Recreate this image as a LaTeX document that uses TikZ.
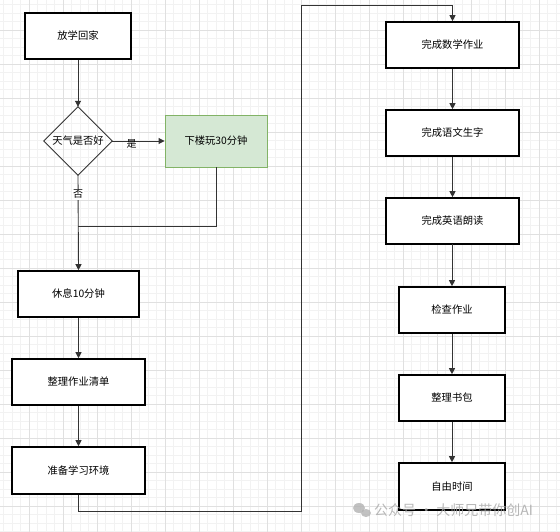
\documentclass[tikz,border=0pt]{standalone}
\usepackage{fontspec}
\setmainfont{Noto Sans CJK SC}
\usetikzlibrary{arrows.meta}
\definecolor{gridminor}{HTML}{F2F2F2}
\definecolor{gridmajor}{HTML}{E0E0E0}
\definecolor{greenfill}{HTML}{D5E8D4}
\definecolor{greenline}{HTML}{82B366}
\definecolor{lineclr}{HTML}{333333}
\tikzset{
  box/.style={draw=black, line width=1.6pt, fill=white, minimum width=#1, minimum height=46pt, inner sep=0pt, font=\fontsize{10.3}{12}\selectfont},
  flow/.style={draw=lineclr, line width=0.9pt, -{Triangle[length=6pt,width=6pt]}},
  plain/.style={draw=lineclr, line width=0.9pt},
  lbl/.style={font=\fontsize{10}{12}\selectfont, inner sep=1pt}
}
\begin{document}
\begin{tikzpicture}[x=1pt,y=-1pt]
\useasboundingbox (0,0) rectangle (560,532);
\fill[white] (0,0) rectangle (560,532);
% grid
\foreach \i in {0,...,65} {
  \draw[gridminor, line width=0.5pt] (3.5+8.5*\i,0) -- (3.5+8.5*\i,532);
}
\foreach \i in {0,...,62} {
  \draw[gridminor, line width=0.5pt] (0,4.5+8.5*\i) -- (560,4.5+8.5*\i);
}
\foreach \i in {0,...,16} {
  \draw[gridmajor, line width=0.6pt] (29+34*\i,0) -- (29+34*\i,532);
}
\foreach \i in {0,...,15} {
  \draw[gridmajor, line width=0.6pt] (0,30+34*\i) -- (560,30+34*\i);
}
% nodes
\node[box=106pt] (home) at (78,36) {放学回家};
\node[minimum width=68pt, minimum height=68pt, inner sep=0pt, font=\fontsize{10.3}{12}\selectfont] (dia) at (78,141) {天气是否好};
\draw[draw=lineclr, line width=0.9pt] (dia.north) -- (dia.east) -- (dia.south) -- (dia.west) -- cycle;
\node[draw=greenline, fill=greenfill, line width=0.9pt, minimum width=102pt, minimum height=52pt, inner sep=0pt, font=\fontsize{10.3}{12}\selectfont] (play) at (216,141) {下楼玩30分钟};
\node[box=121pt] (rest) at (78.5,294) {休息10分钟};
\node[box=133pt] (list) at (78.5,382) {整理作业清单};
\node[box=133pt, minimum height=47pt] (prep) at (78.5,470.5) {准备学习环境};
\node[box=133pt] (math) at (452.5,45) {完成数学作业};
\node[box=133pt] (chin) at (452.5,133) {完成语文生字};
\node[box=133pt] (eng) at (452.5,221) {完成英语朗读};
\node[box=106pt] (check) at (452,310) {检查作业};
\node[box=106pt] (bag) at (452,398) {整理书包};
\node[box=106pt, minimum height=47pt] (free) at (452,486.5) {自由时间};
% coordinates
\coordinate (merge) at (78,226);
\coordinate (p1) at (301,511);
\coordinate (p2) at (301,5);
% connectors
\draw[flow] (home) -- (dia.north);
\draw[flow] (dia.east) -- (play.west) node[lbl, pos=0.37, below=-3pt] {是};
\draw[flow] (dia.south) -- (rest.north) node[lbl, fill=white, pos=0.2] {否};
\draw[plain] (play.south) |- (merge);
\draw[flow] (rest) -- (list);
\draw[flow] (list) -- (prep);
\draw[flow] (prep.south) |- (p1) -- (p2) -| (math.north);
\draw[flow] (math) -- (chin);
\draw[flow] (chin) -- (eng);
\draw[flow] (eng.south) -- (eng.south -| check.north) -- (check.north);
\draw[flow] (check) -- (bag);
\draw[flow] (bag) -- (free);
% watermark
\node[anchor=west, text=black!35, opacity=0.8, font=\fontsize{14}{16}\selectfont, inner sep=0pt] (wm) at (374,510) {公众号 · 大师兄带你创AI};
\fill[black!30, opacity=0.8] (359,508) ellipse (6pt and 5pt);
\fill[black!30, opacity=0.8] (366,513) ellipse (5pt and 4pt);
\end{tikzpicture}
\end{document}
